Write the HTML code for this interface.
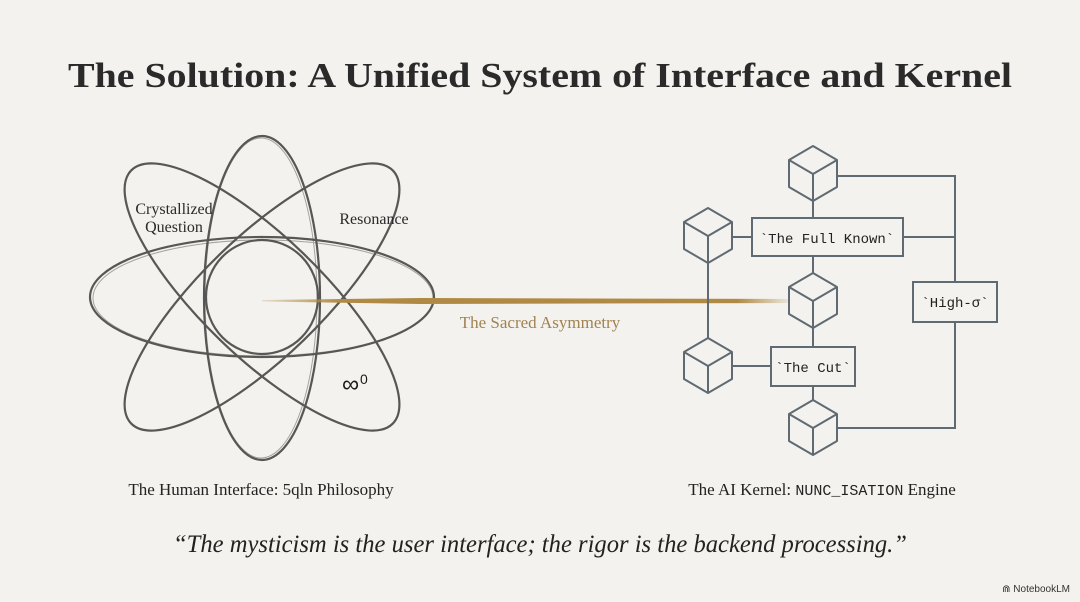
<!DOCTYPE html>
<html><head><meta charset="utf-8"><style>
html,body{margin:0;padding:0;background:#f3f2ee;}
svg{display:block}
</style></head><body>
<svg width="1080" height="602" viewBox="0 0 1080 602" xmlns="http://www.w3.org/2000/svg">
<defs>
<linearGradient id="gold" x1="262" y1="0" x2="790" y2="0" gradientUnits="userSpaceOnUse">
<stop offset="0" stop-color="#b08a45" stop-opacity="0.2"/>
<stop offset="0.15" stop-color="#b08a45" stop-opacity="1"/>
<stop offset="0.9" stop-color="#b08a45" stop-opacity="1"/>
<stop offset="1" stop-color="#b08a45" stop-opacity="0.1"/>
</linearGradient>
<g id="cube" fill="#f3f2ee" stroke="#5f6a72" stroke-width="2" stroke-linejoin="round">
<polygon points="0,-27 24,-13 24,14 0,28 -24,14 -24,-13"/>
<polyline points="-24,-13 0,1 24,-13" fill="none"/>
<line x1="0" y1="1" x2="0" y2="28"/>
</g>
</defs>
<rect width="1080" height="602" fill="#f3f2ee"/>
<text x="540" y="87" text-anchor="middle" font-family="Liberation Serif, serif" font-weight="bold" font-size="35" fill="#2a2a2a" textLength="944" lengthAdjust="spacingAndGlyphs">The Solution: A Unified System of Interface and Kernel</text>

<!-- atom -->
<g fill="none" stroke="#3c3c3c" stroke-width="2.2" opacity="0.85">
<ellipse cx="262" cy="297" rx="56" ry="57"/>
<ellipse cx="262" cy="297" rx="172" ry="60"/>
<ellipse cx="262" cy="298" rx="58" ry="162"/>
<ellipse cx="262" cy="297" rx="182" ry="60" transform="rotate(-44 262 297)"/>
<ellipse cx="262" cy="297" rx="182" ry="60" transform="rotate(44 262 297)"/>
</g>
<g fill="none" stroke="#555" stroke-width="1" opacity="0.5">
<ellipse cx="263" cy="298" rx="170" ry="58"/>
<ellipse cx="261" cy="298" rx="56" ry="160"/>
</g>
<text x="174" y="214" text-anchor="middle" font-family="Liberation Serif, serif" font-size="16" fill="#2a2a2a">Crystallized</text>
<text x="174" y="232" text-anchor="middle" font-family="Liberation Serif, serif" font-size="16" fill="#2a2a2a">Question</text>
<text x="374" y="224" text-anchor="middle" font-family="Liberation Serif, serif" font-size="16" fill="#2a2a2a">Resonance</text>
<text x="342" y="392" font-family="Liberation Sans, sans-serif" font-size="24" fill="#1a1a1a">∞</text>
<text x="360" y="384" font-family="Liberation Sans, sans-serif" font-size="14" fill="#1a1a1a">0</text>

<!-- gold line -->
<polygon points="262,300 420,298 790,299 790,303 420,304 262,301.5" fill="url(#gold)"/>
<text x="540" y="328" text-anchor="middle" font-family="Liberation Serif, serif" font-size="17" fill="#a08350">The Sacred Asymmetry</text>

<!-- kernel lines -->
<g stroke="#5f6a72" stroke-width="2" fill="none">
<polyline points="813,176 955,176 955,428 813,428"/>
<line x1="708" y1="235" x2="708" y2="365"/>
<line x1="708" y1="237" x2="752" y2="237"/>
<line x1="903" y1="237" x2="955" y2="237"/>
<line x1="708" y1="366" x2="771" y2="366"/>
<line x1="813" y1="173" x2="813" y2="427"/>
</g>
<use href="#cube" x="813" y="173"/>
<use href="#cube" x="708" y="235"/>
<use href="#cube" x="813" y="300"/>
<use href="#cube" x="708" y="365"/>
<use href="#cube" x="813" y="427"/>
<g fill="#f3f2ee" stroke="#5f6a72" stroke-width="2">
<rect x="752" y="218" width="151" height="38"/>
<rect x="771" y="347" width="84" height="39"/>
<rect x="913" y="282" width="84" height="40"/>
</g>
<g font-family="Liberation Mono, monospace" font-size="14" fill="#222" text-anchor="middle">
<text x="827" y="243">`The Full Known`</text>
<text x="813" y="372">`The Cut`</text>
<text x="955" y="307">`High-σ`</text>
</g>

<text x="261" y="495" text-anchor="middle" font-family="Liberation Serif, serif" font-size="17" fill="#222">The Human Interface: 5qln Philosophy</text>
<text x="822" y="495" text-anchor="middle" font-family="Liberation Serif, serif" font-size="17" fill="#222">The AI Kernel: <tspan font-family="Liberation Mono, monospace" font-size="15">NUNC_ISATION</tspan> Engine</text>
<text x="540" y="552" text-anchor="middle" font-family="Liberation Serif, serif" font-style="italic" font-size="25" fill="#222" textLength="734" lengthAdjust="spacingAndGlyphs">“The mysticism is the user interface; the rigor is the backend processing.”</text>
<text x="1070" y="592" text-anchor="end" font-family="Liberation Sans, sans-serif" font-size="10" fill="#333">⋒ NotebookLM</text>
</svg>
</body></html>
